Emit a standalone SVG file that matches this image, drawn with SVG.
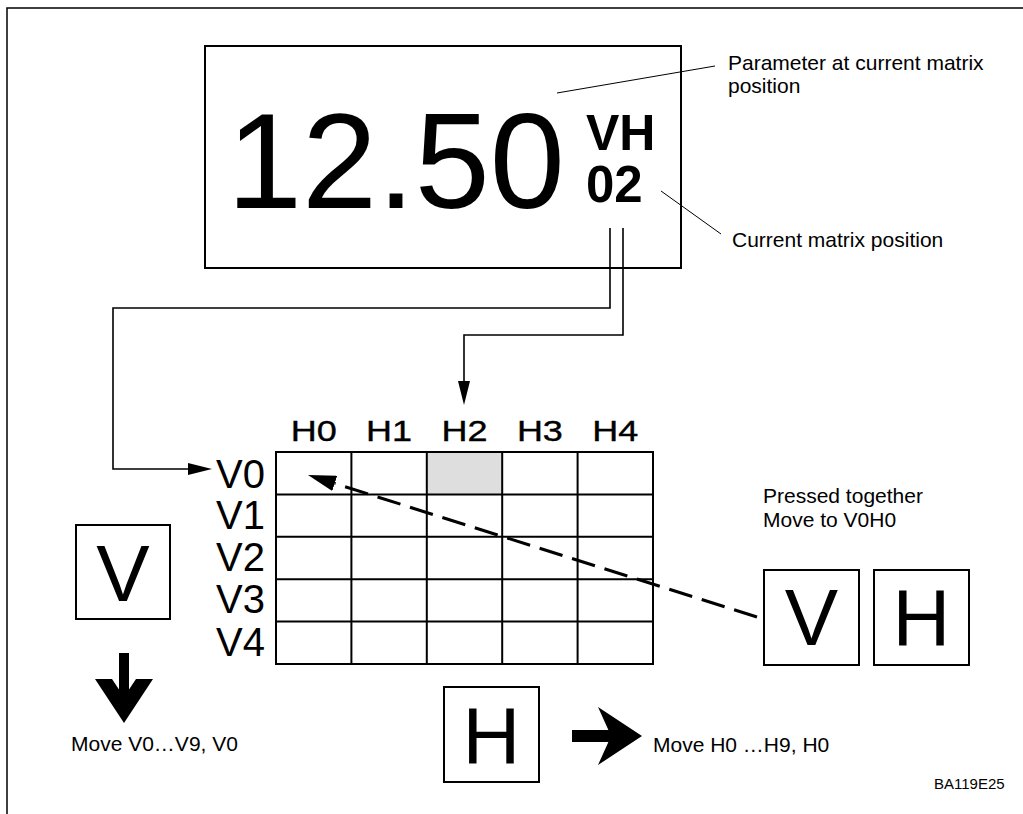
<svg xmlns="http://www.w3.org/2000/svg" width="1023" height="814" viewBox="0 0 1023 814">
<style>
  text { font-family: "Liberation Sans", Arial, sans-serif; fill: #000; }
  .lbl { font-size: 21px; }
  .box { fill: #fff; stroke: #000; stroke-width: 2; }
  .key { font-size: 80px; text-anchor: middle; }
  .hdr { font-size: 30px; text-anchor: middle; stroke: #000; stroke-width: 0.4; }
  .row { font-size: 40px; text-anchor: end; }
  .lead { stroke: #000; stroke-width: 1; fill: none; }
  .conn { stroke: #000; stroke-width: 1.6; fill: none; }
  .grid { stroke: #000; stroke-width: 2; fill: none; }
</style>
<defs>
  <marker id="arr" viewBox="0 0 24 12" refX="0" refY="6" markerWidth="24" markerHeight="12" markerUnits="userSpaceOnUse" orient="auto">
    <path d="M0,0 L24,6 L0,12 z" fill="#000"/>
  </marker>
  <marker id="arrBig" viewBox="0 0 28 16" refX="0" refY="8" markerWidth="28" markerHeight="16" markerUnits="userSpaceOnUse" orient="auto">
    <path d="M0,0 L28,8 L0,16 z" fill="#000"/>
  </marker>
</defs>

<g id="frame">
  <path d="M7,814 L7,8 L1023,8" fill="none" stroke="#000" stroke-width="1.5"/>
</g>

<g id="display">
  <rect x="205" y="46" width="476" height="222" fill="#fff" stroke="#000" stroke-width="2"/>
  <text x="227" y="208" font-size="135">12.50</text>
  <text x="586" y="150" font-size="50" font-weight="bold">VH</text>
  <text x="586" y="202" font-size="51" font-weight="bold">02</text>
</g>

<g id="label-parameter">
  <line class="lead" x1="557" y1="93" x2="715" y2="66"/>
  <text class="lbl" x="728" y="70">Parameter at current matrix</text>
  <text class="lbl" x="728" y="93">position</text>
</g>

<g id="label-position">
  <line class="lead" x1="661" y1="191" x2="721" y2="234"/>
  <text class="lbl" x="732" y="247">Current matrix position</text>
</g>

<g id="matrix">
  <rect x="427" y="452" width="75" height="42.4" fill="#dedede"/>
  <rect class="grid" x="276" y="452" width="377" height="212"/>
  <path class="grid" d="M351.4,452 V664 M426.8,452 V664 M502.2,452 V664 M577.6,452 V664 M276,494.4 H653 M276,536.8 H653 M276,579.2 H653 M276,621.6 H653"/>
  <text class="hdr" x="313.7" y="441" textLength="46" lengthAdjust="spacingAndGlyphs">H0</text>
  <text class="hdr" x="389.1" y="441" textLength="46" lengthAdjust="spacingAndGlyphs">H1</text>
  <text class="hdr" x="464.5" y="441" textLength="46" lengthAdjust="spacingAndGlyphs">H2</text>
  <text class="hdr" x="539.9" y="441" textLength="46" lengthAdjust="spacingAndGlyphs">H3</text>
  <text class="hdr" x="615.3" y="441" textLength="46" lengthAdjust="spacingAndGlyphs">H4</text>
  <text class="row" x="265" y="488">V0</text>
  <text class="row" x="265" y="529">V1</text>
  <text class="row" x="265" y="571">V2</text>
  <text class="row" x="265" y="613">V3</text>
  <text class="row" x="265" y="656">V4</text>
</g>

<g id="key-v-left">
  <rect class="box" x="76" y="525" width="94" height="94"/>
  <text class="key" x="123" y="601">V</text>
</g>

<g id="arrow-down">
  <polygon points="119,653 129,653 129,689.6 136,679 153,679 124,723 95,679 112,679 119,689.6" fill="#000"/>
  <text class="lbl" x="71" y="751">Move V0…V9, V0</text>
</g>

<g id="key-h-bottom">
  <rect class="box" x="444" y="687" width="95" height="95"/>
  <text class="key" x="491.5" y="763">H</text>
</g>

<g id="arrow-right">
  <polygon points="572,730 608.4,730 598,707 642,736 598,765 608.4,742 572,742" fill="#000"/>
  <text class="lbl" x="653" y="752">Move H0 …H9, H0</text>
</g>

<g id="keys-vh">
  <text class="lbl" x="763" y="503">Pressed together</text>
  <text class="lbl" x="763" y="527">Move to V0H0</text>
  <rect class="box" x="764" y="570" width="95" height="95"/>
  <text class="key" x="811.5" y="645">V</text>
  <rect class="box" x="874" y="570" width="95" height="95"/>
  <text class="key" x="921.5" y="645">H</text>
</g>

<g id="code">
  <text x="934" y="789" font-size="15">BA119E25</text>
</g>

<g id="connectors">
  <polyline class="conn" points="610,228 610,308 113,308 113,469 188,469" marker-end="url(#arr)"/>
  <polyline class="conn" points="623,228 623,335 464,335 464,381" marker-end="url(#arr)"/>
  <line x1="757" y1="617" x2="334.7" y2="483.4" stroke="#000" stroke-width="3" stroke-dasharray="24 10" marker-end="url(#arrBig)"/>
</g>
</svg>
